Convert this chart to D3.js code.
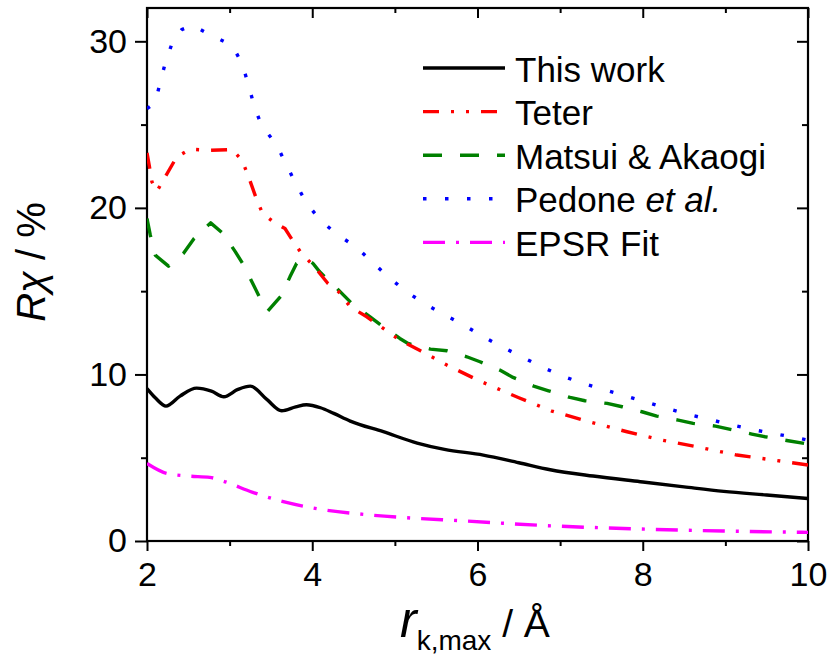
<!DOCTYPE html>
<html>
<head>
<meta charset="utf-8">
<script src="https://cdn.jsdelivr.net/npm/d3@7"></script>
<style>
  body { margin: 0; background: #fff; }
  text { font-family: "Liberation Sans", Arial, sans-serif; fill: #000; }
</style>
</head>
<body>
<div id="plot"></div>
<script>
// Data: [r_k,max (Å), R chi (%)]
var thisWork = [[2.0, 9.15], [2.1, 8.6], [2.23, 8.1], [2.4, 8.7], [2.6, 9.18], [2.78, 9.0], [2.93, 8.66],
    [3.1, 9.1], [3.25, 9.3], [3.45, 8.5], [3.63, 7.82], [3.8, 8.05], [3.93, 8.18], [4.1, 8.0],
    [4.26, 7.66], [4.46, 7.2], [4.86, 6.56], [5.27, 5.88], [5.6, 5.5], [6.07, 5.16], [6.5, 4.7],
    [6.88, 4.28], [7.4, 3.9], [7.97, 3.56], [8.5, 3.25], [8.98, 2.98], [9.5, 2.76], [10, 2.55]];

var teter = [[2.0, 23.3], [2.03, 22.46], [2.06, 21.56], [2.12, 21.0], [2.22, 21.86], [2.36, 23.06],
    [2.52, 23.52], [2.76, 23.46], [3.03, 23.5], [3.15, 22.86], [3.23, 21.86], [3.33, 20.46],
    [3.4, 19.66], [3.53, 19.16], [3.67, 18.76], [3.76, 18.06], [3.87, 17.26], [4.01, 16.56],
    [4.19, 15.46], [4.32, 14.96], [4.46, 14.06], [4.66, 13.46], [4.86, 12.76], [5.06, 12.06],
    [5.31, 11.42], [5.63, 10.56], [6.03, 9.6], [6.5, 8.6], [6.9, 7.8], [7.32, 7.2], [7.81, 6.56],
    [8.23, 6.06], [8.65, 5.66], [9.14, 5.16], [9.58, 4.86], [10, 4.56]];

var matsui = [[2.0, 19.36], [2.04, 18.36], [2.1, 17.16], [2.26, 16.5], [2.44, 17.26], [2.57, 18.16],
    [2.77, 19.1], [2.92, 18.46], [3.07, 17.36], [3.17, 16.56], [3.28, 15.46], [3.37, 14.56],
    [3.46, 13.8], [3.63, 14.76], [3.73, 15.86], [3.81, 16.66], [3.92, 17.0], [4.01, 16.66],
    [4.09, 16.16], [4.3, 15.16], [4.5, 14.16], [4.7, 13.46], [4.86, 12.86], [5.06, 12.16],
    [5.16, 11.86], [5.43, 11.52], [5.63, 11.42], [5.87, 11.06], [6.03, 10.76], [6.27, 10.26],
    [6.43, 9.82], [6.68, 9.3], [6.86, 9.02], [7.12, 8.62], [7.3, 8.42], [7.57, 8.26], [7.75, 8.06],
    [7.99, 7.76], [8.17, 7.5], [8.43, 7.26], [8.61, 7.06], [8.88, 6.9], [9.06, 6.7], [9.32, 6.42],
    [9.48, 6.26], [9.76, 6.02], [10, 5.82]];

var pedone = [[2.0, 25.96], [2.1, 26.3], [2.16, 27.56], [2.23, 28.86], [2.32, 30.1], [2.42, 30.7],
    [2.55, 30.96], [2.76, 30.4], [2.99, 29.86], [3.07, 29.4], [3.15, 28.66], [3.23, 27.36],
    [3.3, 26.06], [3.39, 24.9], [3.56, 23.86], [3.68, 22.66], [3.8, 21.46], [3.93, 20.3],
    [4.09, 19.3], [4.3, 18.4], [4.53, 17.66], [4.73, 16.72], [4.93, 15.82], [5.14, 14.96],
    [5.37, 14.22], [5.6, 13.58], [5.85, 12.92], [6.07, 12.26], [6.31, 11.62], [6.56, 11.0],
    [6.79, 10.42], [7.03, 9.9], [7.29, 9.44], [7.55, 9.06], [7.81, 8.68], [8.07, 8.3], [8.32, 7.92],
    [8.58, 7.56], [8.84, 7.26], [9.1, 6.94], [9.36, 6.66], [9.64, 6.4], [9.9, 6.16], [10, 6.05]];

var epsrFit = [[2.0, 4.66], [2.24, 4.06], [2.5, 3.9], [2.76, 3.82], [2.92, 3.6], [3.28, 2.92],
    [3.65, 2.36], [4.01, 1.98], [4.66, 1.58], [5.2, 1.38], [5.79, 1.22], [6.76, 0.94],
    [7.97, 0.72], [8.97, 0.6], [10, 0.52]];

var xMajor = [2, 4, 6, 8, 10], xMinor = [3, 5, 7, 9];
var yMajor = [0, 10, 20, 30], yMinor = [5, 15, 25];

// Dimensions
var margin = {top: 8, right: 26, bottom: 123, left: 147},
    width = 834 - margin.left - margin.right,
    height = 664 - margin.top - margin.bottom;

var svg = d3.select("#plot")
    .append("svg")
        .attr("width", 834)
        .attr("height", 664)
    .append("g")
        .attr("transform", "translate(" + margin.left + "," + margin.top + ")");

var x = d3.scaleLinear().domain([2, 10]).range([0, width]);
var y = d3.scaleLinear().domain([0, 32]).range([height, 0]);

// Axes: outward ticks bottom/left, inward mirror ticks top/right
function styleAxis(g) {
    g.select(".domain").remove();
    g.selectAll("line").attr("stroke", "#000").attr("stroke-width", 2);
    g.selectAll("text").style("font-size", "34px").style("font-family", "Liberation Sans, Arial, sans-serif");
}
svg.append("g").attr("transform", "translate(0," + height + ")")
    .call(d3.axisBottom(x).tickValues(xMajor).tickSize(10).tickPadding(11).tickFormat(d3.format("d")))
    .call(styleAxis);
svg.append("g").attr("transform", "translate(0," + height + ")")
    .call(d3.axisBottom(x).tickValues(xMinor).tickSize(5).tickFormat(""))
    .call(styleAxis);
svg.append("g")
    .call(d3.axisLeft(y).tickValues(yMajor).tickSize(12).tickPadding(8).tickFormat(d3.format("d")))
    .call(styleAxis);
svg.append("g")
    .call(d3.axisLeft(y).tickValues(yMinor).tickSize(6).tickFormat(""))
    .call(styleAxis);
svg.append("g")
    .call(d3.axisTop(x).tickValues(xMajor).tickSize(-10).tickFormat(""))
    .call(styleAxis);
svg.append("g")
    .call(d3.axisTop(x).tickValues(xMinor).tickSize(-5).tickFormat(""))
    .call(styleAxis);
svg.append("g").attr("transform", "translate(" + width + ",0)")
    .call(d3.axisRight(y).tickValues(yMajor).tickSize(-11).tickFormat(""))
    .call(styleAxis);
svg.append("g").attr("transform", "translate(" + width + ",0)")
    .call(d3.axisRight(y).tickValues(yMinor).tickSize(-6).tickFormat(""))
    .call(styleAxis);

svg.append("rect")
    .attr("width", width)
    .attr("height", height)
    .attr("fill", "none")
    .attr("stroke", "#000")
    .attr("stroke-width", 2.2);

// Series
var series = [
    {name: "This work", data: thisWork, color: "#000000", dash: null, curve: d3.curveMonotoneX},
    {name: "Teter", data: teter, color: "#ff0000", dash: "16 12 3 12 3 12", curve: d3.curveLinear},
    {name: "Matsui & Akaogi", data: matsui, color: "#008000", dash: "19 18", curve: d3.curveLinear},
    {name: "Pedone", data: pedone, color: "#0000ff", dash: "3.5 18.5", curve: d3.curveLinear},
    {name: "EPSR Fit", data: epsrFit, color: "#ff00ff", dash: "22 11 3 11", curve: d3.curveMonotoneX}
];

svg.append("clipPath").attr("id", "clip")
    .append("rect").attr("width", width).attr("height", height);

var plotArea = svg.append("g").attr("clip-path", "url(#clip)");
series.slice().reverse().forEach(function(s) {
    var line = d3.line()
        .x(function(d) { return x(d[0]); })
        .y(function(d) { return y(d[1]); })
        .curve(s.curve);
    plotArea.append("path")
        .datum(s.data)
        .attr("fill", "none")
        .attr("stroke", s.color)
        .attr("stroke-width", 3.4)
        .attr("stroke-linejoin", "round")
        .attr("stroke-dasharray", s.dash)
        .attr("d", line);
});

// Legend
var legend = svg.append("g").attr("transform", "translate(" + (423 - margin.left) + "," + (68 - margin.top) + ")");
series.forEach(function(s, i) {
    var row = legend.append("g").attr("transform", "translate(0," + (i * 43.6) + ")");
    row.append("line")
        .attr("x1", 0).attr("x2", 82)
        .attr("stroke", s.color)
        .attr("stroke-width", 3.4)
        .attr("stroke-dasharray", s.dash);
    var t = row.append("text")
        .attr("x", 92)
        .attr("y", 13.5)
        .style("font-size", "35px");
    if (s.name === "Pedone") {
        t.append("tspan").text("Pedone ");
        t.append("tspan").style("font-style", "italic").text("et al.");
    } else {
        t.text(s.name);
    }
});

// Axis titles
var xt = svg.append("text")
    .attr("x", 400 - margin.left)
    .attr("y", 637 - margin.top);
xt.append("tspan").style("font-style", "italic").style("font-size", "50px").text("r");
xt.append("tspan").style("font-size", "28px").attr("dy", 13).text("k,max");
xt.append("tspan").style("font-size", "39px").attr("dy", -13).text(" / Å");

var yt = svg.append("text")
    .attr("transform", "translate(" + (45 - margin.left) + "," + (262 - margin.top) + ") rotate(-90)")
    .attr("text-anchor", "middle")
    .style("font-size", "40px");
yt.append("tspan").style("font-style", "italic").text("R");
yt.append("tspan").style("font-style", "italic").text("χ");
yt.append("tspan").text(" / %");
</script>
</body>
</html>
